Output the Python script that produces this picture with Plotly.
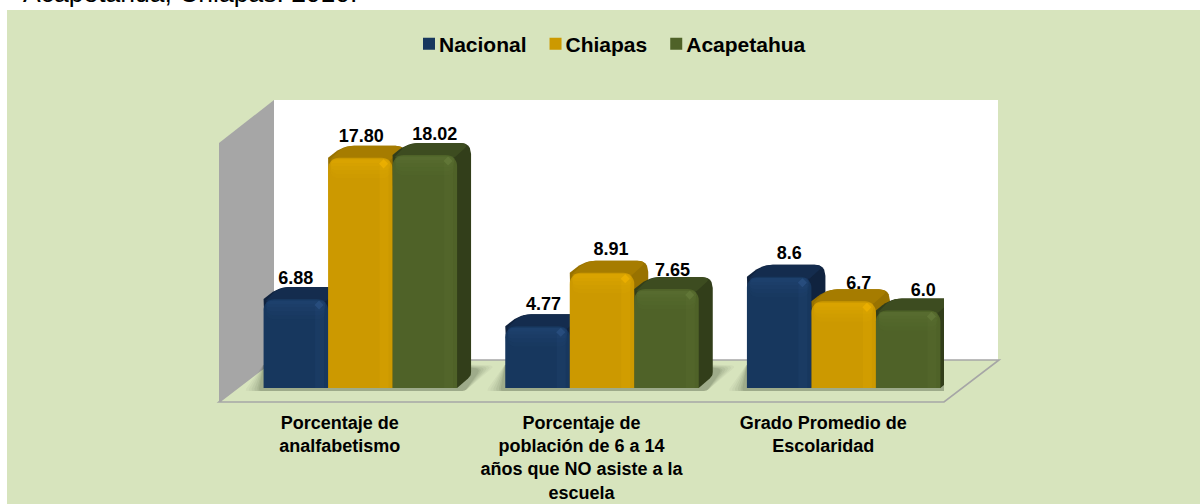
import plotly.graph_objects as go

categories = ["Porcentaje de<br>analfabetismo",
              "Porcentaje de<br>población de 6 a 14<br>años que NO asiste a la<br>escuela",
              "Grado Promedio de<br>Escolaridad"]
cat_pos = [0, 1, 2]
nacional = [6.88, 4.77, 8.6]
chiapas = [17.80, 8.91, 6.7]
acapetahua = [18.02, 7.65, 6.0]
label_nacional = ["6.88", "4.77", "8.6"]
label_chiapas = ["17.80", "8.91", "6.7"]
label_acapetahua = ["18.02", "7.65", "6.0"]
series_names = ["Nacional", "Chiapas", "Acapetahua"]
series_values = [nacional, chiapas, acapetahua]
series_labels = [label_nacional, label_chiapas, label_acapetahua]
face_colors = ["#17375E", "#CC9900", "#4F6228"]
band_colors = ["#2A5082", "#EDB200", "#64793A"]
top_colors = ["#142C4E", "#A67C00", "#3D4C20"]
side_colors = ["#10233F", "#987200", "#323E1A"]
# hand placement of the data labels in the reference, pixels from bar centre / top
label_nudge_x = [[0, 6, 10], [1, 9, 15], [10, 6, 15]]
label_nudge_y = [[1, 0, -1], [1, -1, 4], [1, 3, 2]]

W, H = 1200, 504
AX_L, AX_R, AX_B, AX_T = 219, 944, 402, 100
PX_PER_X = (AX_R - AX_L) / 3
PX_PER_Y = 12.93
BASE_PX = 388
Y_MIN = -(AX_B - BASE_PX) / PX_PER_Y
Y_MAX = (BASE_PX - AX_T) / PX_PER_Y


def fx(p):
    return p / W


def fy(p):
    return (H - p) / H


def poly(points):
    return "M" + " L".join(f"{fx(a):.5f},{fy(b):.5f}" for a, b in points) + " Z"


def rounded(corners, radii):
    """Polygon with rounded corners, all in pixel offsets."""
    out = []
    n = len(corners)
    for i, (c, r) in enumerate(zip(corners, radii)):
        if r == 0:
            out.append(c)
            continue
        a, b = corners[i - 1], corners[(i + 1) % n]
        la = ((a[0] - c[0]) ** 2 + (a[1] - c[1]) ** 2) ** 0.5
        lb = ((b[0] - c[0]) ** 2 + (b[1] - c[1]) ** 2) ** 0.5
        s = (c[0] + (a[0] - c[0]) * r / la, c[1] + (a[1] - c[1]) * r / la)
        e = (c[0] + (b[0] - c[0]) * r / lb, c[1] + (b[1] - c[1]) * r / lb)
        for t in [j / 6 for j in range(7)]:
            out.append(((1 - t) ** 2 * s[0] + 2 * t * (1 - t) * c[0] + t ** 2 * e[0],
                        (1 - t) ** 2 * s[1] + 2 * t * (1 - t) * c[1] + t ** 2 * e[1]))
    return out


BAR_W = 64.5 / PX_PER_X
SHIFT = 20.5 / PX_PER_X
DY = 12 / PX_PER_Y
START = SHIFT - 1.5 * BAR_W

fig = go.Figure()


def add_poly(points_px, x0, y0, color, z):
    xs = [x0 + p[0] / PX_PER_X for p in points_px]
    ys = [y0 + p[1] / PX_PER_Y for p in points_px]
    fig.add_trace(go.Scatter(x=xs + xs[:1], y=ys + ys[:1], mode="lines", fill="toself",
                             fillcolor=color, line=dict(width=0), showlegend=False,
                             hoverinfo="skip", zorder=z))


# floor shadows, one per group
for c in cat_pos:
    g0 = c + START
    gw = 193.5
    for grow, alpha in [(14, 0.035), (11, 0.04), (8, 0.05), (5, 0.06), (2, 0.07), (0, 0.08)]:
        pts = rounded([(-5 - grow, -3), (gw + 8, -3), (gw + 24 + grow, 19 + grow * 0.25),
                       (gw - 20, 25), (0, 24)], [3, 3, 6, 3, 3])
        add_poly(pts, g0, 0, f"rgba(30,40,20,{alpha})", 1)

for k, (name, vals) in enumerate(zip(series_names, series_values)):
    off = START + k * BAR_W
    base_z = 10 * (k + 1)
    wpx = BAR_W * PX_PER_X
    dxp, dyp = 14, 12
    # zero-height bar: gives the legend a square swatch
    fig.add_trace(go.Bar(x=cat_pos, y=[0, 0, 0], width=BAR_W, offset=off, name=name,
                         marker=dict(color=face_colors[k], line=dict(width=0)),
                         hoverinfo="skip", zorder=1))
    for c, v in zip(cat_pos, vals):
        x0 = c + off
        hpx = v * PX_PER_Y
        sil = rounded([(3, 0), (wpx, 0), (wpx + dxp, dyp), (wpx + dxp, hpx + dyp),
                       (dxp + 1, hpx + dyp), (0, hpx)],
                      [0, 0, 4, 11, 11, 0])
        add_poly(sil, x0, 0, side_colors[k], base_z)
        top = rounded([(2, hpx - 2), (dxp + 1, hpx + dyp), (wpx + dxp, hpx + dyp), (wpx - 2, hpx - 2)],
                      [0, 11, 11, 0])
        add_poly(top, x0, 0, top_colors[k], base_z + 1)
    fig.add_trace(go.Bar(x=cat_pos, y=vals, width=BAR_W, offset=off, showlegend=False,
                         marker=dict(color=face_colors[k], line=dict(width=0), cornerradius=11),
                         hoverinfo="skip", zorder=base_z + 2))
    # soft highlight along the top edge
    for h, a in [(19, 0.07), (15, 0.09), (11, 0.11), (7, 0.13), (4, 0.13)]:
        fig.add_trace(go.Bar(x=cat_pos, y=[h / PX_PER_Y] * 3, base=[v - h / PX_PER_Y - 0.1 for v in vals],
                             width=BAR_W - 5 / PX_PER_X, offset=off + 2.5 / PX_PER_X,
                             marker=dict(color=band_colors[k], opacity=a, line=dict(width=0), cornerradius=7),
                             showlegend=False, hoverinfo="skip", zorder=base_z + 3))
    # faint vertical strip near the right edge
    fig.add_trace(go.Bar(x=cat_pos, y=[v - 8 / PX_PER_Y for v in vals],
                         width=9 / PX_PER_X, offset=off + BAR_W - 13 / PX_PER_X,
                         marker=dict(color=band_colors[k], opacity=0.16, line=dict(width=0)),
                         showlegend=False, hoverinfo="skip", zorder=base_z + 3))
    fig.add_trace(go.Scatter(x=[c + off + BAR_W - 9 / PX_PER_X for c in cat_pos],
                             y=[v - 6 / PX_PER_Y for v in vals], mode="markers",
                             marker=dict(symbol="diamond", size=7, color=band_colors[k], opacity=0.8),
                             showlegend=False, hoverinfo="skip", zorder=base_z + 4))

for k, (vals, labels) in enumerate(zip(series_values, series_labels)):
    off = START + k * BAR_W
    fig.add_trace(go.Scatter(x=[c + off + BAR_W / 2 + label_nudge_x[k][c] / PX_PER_X for c in cat_pos],
                             y=[v + DY - label_nudge_y[k][c] / PX_PER_Y for c, v in zip(cat_pos, vals)],
                             mode="text", text=labels,
                             textposition="top center", cliponaxis=False,
                             textfont=dict(family="Liberation Sans", size=18, color="#000000", weight="bold"),
                             showlegend=False, hoverinfo="skip", zorder=100))

GREY = "#A6A6A6"
shapes = [
    dict(type="path", path=poly([(7, 10), (1200, 10), (1200, 504), (7, 504)]), fillcolor="#D7E4BD", line=dict(width=0)),
    dict(type="path", path=poly([(274, 100), (998, 100), (998, 360), (274, 360)]), fillcolor="#FFFFFF", line=dict(width=0)),
    dict(type="path", path=poly([(219, 143), (274, 100), (274, 360), (219, 402)]), fillcolor=GREY, line=dict(width=0)),
    dict(type="path", path=poly([(219, 402), (274, 360), (999, 360), (944, 402)]), fillcolor="#D7E4BD",
         line=dict(color=GREY, width=1.6)),
]
for s in shapes:
    s.update(xref="paper", yref="paper", layer="below")

fig.update_layout(
    width=W, height=H, autosize=False,
    margin=dict(l=0, r=0, t=0, b=0, pad=0),
    paper_bgcolor="#FFFFFF", plot_bgcolor="rgba(0,0,0,0)",
    barmode="overlay", shapes=shapes,
    font=dict(family="Liberation Sans", color="#000000"),
    xaxis=dict(domain=[fx(AX_L), fx(AX_R)], range=[-0.5, 2.5], tickmode="array", tickvals=cat_pos,
               ticktext=[f"<b>{c}</b>" for c in categories], showgrid=False, zeroline=False,
               showline=True, linecolor="#999999", linewidth=2, ticks="", ticklen=0, ticklabelstandoff=3,
               tickangle=0, tickfont=dict(family="Liberation Sans", size=18, color="#000000")),
    yaxis=dict(domain=[fy(AX_B), fy(AX_T)], range=[Y_MIN, Y_MAX], showgrid=False, zeroline=False,
               showticklabels=False, ticks="", showline=False),
    legend=dict(orientation="h", x=0.3325, y=fy(44), xanchor="left", yanchor="middle",
                bgcolor="rgba(0,0,0,0)", font=dict(family="Liberation Sans", size=21, color="#000000", weight="bold"),
                itemclick=False, itemdoubleclick=False),
    annotations=[dict(text="Acapetahua, Chiapas. 2010.", xref="paper", yref="paper", x=fx(21), y=fy(10),
                      xanchor="left", yanchor="bottom", showarrow=False,
                      font=dict(family="Liberation Sans", size=26.5, color="#000000"))],
)

post = """
document.body.style.margin='0';
document.documentElement.style.overflow='hidden';
document.querySelectorAll('.legend .traces').forEach(function(t,i){
  var m=/translate\\(\\s*([-\\d.]+)[ ,]+([-\\d.]+)\\s*\\)/.exec(t.getAttribute('transform')||'');
  if(m){t.setAttribute('transform','translate('+(parseFloat(m[1])-6*i)+','+m[2]+')');}
  var s=t.querySelector('.legendsymbols');
  if(s){s.setAttribute('transform','translate(10,0)');}
});
"""
fig.write_html("out.html", config=dict(displayModeBar=False), post_script=post)
